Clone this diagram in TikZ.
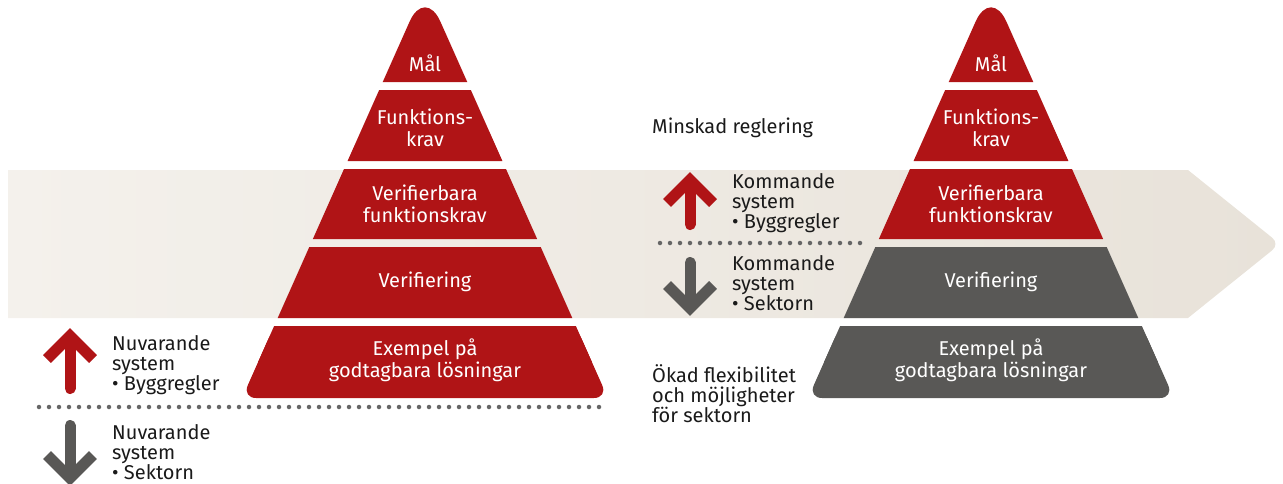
\documentclass[tikz,border=0pt]{standalone}
\usepackage{fontspec}
\setmainfont{Fira Sans}
\usepackage{xcolor}
\usepackage{tikz}
\usetikzlibrary{positioning,calc}

\definecolor{pyrred}{HTML}{B01416}
\definecolor{pyrgrey}{HTML}{595856}
\definecolor{bandleft}{HTML}{F4F1EC}
\definecolor{bandright}{HTML}{E8E2D9}
\definecolor{dotgrey}{HTML}{666666}
\definecolor{inkblack}{HTML}{1A1A1A}

\begin{document}
\begin{tikzpicture}[x=1pt, y=-1pt,
    lbl/.style={font=\fontsize{20}{21.5}\selectfont, inner sep=0pt},
    pyrlbl/.style={lbl, text=white, align=center, anchor=base},
    sidelbl/.style={lbl, font=\fontsize{20}{20}\selectfont, text=inkblack, align=left, anchor=base west},
    dotline/.style={dotgrey, line width=4.5pt, line cap=round, dash pattern=on 0pt off 10pt},
    arrowicon/.style={line width=11pt}]
    \useasboundingbox (0,0) rectangle (1283,483);
    \clip (0,0) rectangle (1283,483);

    % band behind the pyramids
    \shade[left color=bandleft, right color=bandright]
        (8,170) -- (1188,170) [rounded corners=10pt] -- (1280,244) [sharp corners] -- (1188,318) -- (8,318) -- cycle;

    % the two pyramids
    \foreach \cx/\lowcol in {425/pyrred, 991/pyrgrey} {
        \fill[pyrred] ({\cx-0.445*95},82) [rounded corners=38pt] -- (\cx,-13) [sharp corners] -- ({\cx+0.445*95},82) -- cycle;
        \fill[pyrred] ({\cx-0.445*103},90) -- ({\cx+0.445*103},90) -- ({\cx+0.445*174},161) -- ({\cx-0.445*174},161) -- cycle;
        \fill[pyrred] ({\cx-0.445*182},169) -- ({\cx+0.445*182},169) -- ({\cx+0.445*252},239) -- ({\cx-0.445*252},239) -- cycle;
        \fill[\lowcol] ({\cx-0.445*260},247) -- ({\cx+0.445*260},247) -- ({\cx+0.445*331},318) -- ({\cx-0.445*331},318) -- cycle;
        % bottom layer: rounded all round, then sharp top half over it
        \fill[\lowcol, rounded corners=14pt] ({\cx-0.445*339},326) -- ({\cx+0.445*339},326) -- ({\cx+0.445*411},398) -- ({\cx-0.445*411},398) -- cycle;
        \fill[\lowcol] ({\cx-0.445*339},326) -- ({\cx+0.445*339},326) -- ({\cx+0.445*375},362) -- ({\cx-0.445*375},362) -- cycle;
    }

    % pyramid texts (base = last line)
    \node[pyrlbl] (lmal) at (425,71) {Mål};
    \node[pyrlbl] (lfunk) at (425,146) {Funktions-\\krav};
    \node[pyrlbl] (lverk) at (425,222) {Verifierbara\\funktionskrav};
    \node[pyrlbl] (lver) at (425,287) {Verifiering};
    \node[pyrlbl] (lex) at (425,377) {Exempel på\\godtagbara lösningar};
    \node[pyrlbl] (rmal) at (991,71) {Mål};
    \node[pyrlbl] (rfunk) at (991,146) {Funktions-\\krav};
    \node[pyrlbl] (rverk) at (991,222) {Verifierbara\\funktionskrav};
    \node[pyrlbl] (rver) at (991,287) {Verifiering};
    \node[pyrlbl] (rex) at (991,377) {Exempel på\\godtagbara lösningar};

    % dotted dividers
    \coordinate (ldotA) at (39,407);
    \coordinate (ldotB) at (600,407);
    \coordinate (mdotA) at (660,243);
    \coordinate (mdotB) at (870,243);
    \draw[dotline] (ldotA) -- (ldotB);
    \draw[dotline] (mdotA) -- (mdotB);

    % up arrows
    \foreach \cx/\tp/\bt in {70/328/394, 690/172/230} {
        \draw[arrowicon, pyrred, line cap=round] (\cx,\tp+12) -- (\cx,\bt-5.5);
        \draw[arrowicon, pyrred, line join=miter] (\cx-23,\tp+31) -- (\cx,\tp+8) -- (\cx+23,\tp+31);
    }
    % down arrows
    \foreach \cx/\tp/\bt in {70/420/486, 690/257/316} {
        \draw[arrowicon, pyrgrey, line cap=round] (\cx,\tp+5.5) -- (\cx,\bt-12);
        \draw[arrowicon, pyrgrey, line join=miter] (\cx-23,\bt-31) -- (\cx,\bt-8) -- (\cx+23,\bt-31);
    }

    % side texts (base = last line)
    \node[sidelbl] (nuvup) at (112,390) {Nuvarande\\system\\• Byggregler};
    \node[sidelbl] (nuvdown) at (112,479) {Nuvarande\\system\\• Sektorn};
    \node[sidelbl] (komup) at (732,228) {Kommande\\system\\• Byggregler};
    \node[sidelbl] (komdown) at (732,310) {Kommande\\system\\• Sektorn};
    \node[sidelbl] (minsk) at (652,133) {Minskad reglering};
    \node[sidelbl] (okad) at (652,422) {Ökad flexibilitet\\och möjligheter\\för sektorn};
\end{tikzpicture}
\end{document}
